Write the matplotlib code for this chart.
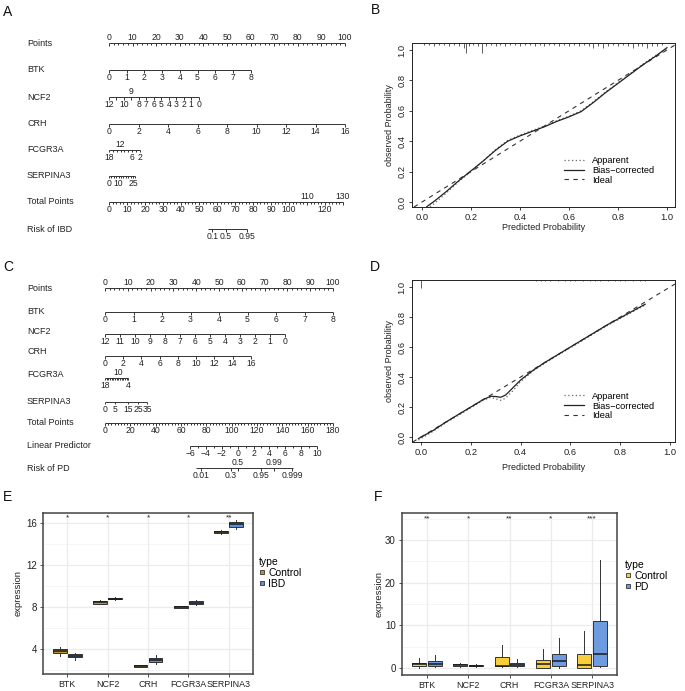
import numpy as np
import matplotlib
matplotlib.use('Agg')
import matplotlib.pyplot as plt
from matplotlib.lines import Line2D
from matplotlib.collections import LineCollection
import matplotlib.transforms as mtransforms

plt.rcParams['font.family'] = ['Liberation Sans', 'DejaVu Sans']

# ---------------- data ----------------
# Panel A nomogram (value -> points)
A_points = list(range(0, 101, 10))
A_btk_vals = list(range(0, 9));            A_btk_pts_range = (0, 60)
A_ncf2_vals = list(range(12, -1, -1));     A_ncf2_pts_range = (0, 38)     # 12 -> 0 pts, 0 -> 38 pts
A_ncf2_labels = [12, 10, 9, 8, 7, 6, 5, 4, 3, 2, 1, 0]
A_crh_vals = list(range(0, 17, 2));        A_crh_pts_range = (0, 100)
A_fcgr3a_labels = [18, 12, 6, 2];          A_fcgr3a_pts_range = (0, 13)   # 18 -> 0, 2 -> 13
A_serpina3_labels = [0, 10, 25];           A_serpina3_pts_range = (0, 10.2)
A_total_vals = list(range(0, 131, 10));    A_total_at_100pts = 131.1
A_risk_vals = [0.1, 0.5, 0.95];            A_risk_tp = [57.3, 65, 76.5]; A_risk_line_tp = (55, 76.5)

# Panel C nomogram
C_points = list(range(0, 101, 10))
C_btk_vals = list(range(0, 9));            C_btk_pts_range = (0, 100)
C_ncf2_vals = list(range(12, -1, -1));     C_ncf2_pts_range = (0, 79)
C_crh_vals = list(range(0, 17, 2));        C_crh_pts_range = (0, 64)
C_fcgr3a_labels = [18, 10, 4];             C_fcgr3a_pts_range = (0, 10.3)
C_serpina3_vals = [0, 5, 15, 25, 35];      C_serpina3_pts = [0, 4.4, 10, 14.5, 18.4]
C_total_vals = list(range(0, 181, 20));    C_total_at_100pts = 180
C_lp_vals = list(range(-6, 11, 2));        C_lp_tp_range = (67.1, 167.4)  # tp at lp=-6 and lp=10
C_risk_vals = [0.01, 0.3, 0.5, 0.95, 0.99, 0.999]

# Panel B calibration
B_pred = [0.02, 0.05, 0.10, 0.15, 0.20, 0.25, 0.30, 0.35, 0.40, 0.45, 0.50, 0.55, 0.60, 0.65, 0.70, 0.75, 0.80, 0.85, 0.90, 0.95, 1.00]
B_bias = [-0.03, 0.005, 0.07, 0.14, 0.205, 0.27, 0.34, 0.40, 0.435, 0.465, 0.495, 0.53, 0.56, 0.595, 0.655, 0.72, 0.78, 0.84, 0.90, 0.955, 1.015]
B_app = [-0.045, -0.01, 0.06, 0.135, 0.20, 0.27, 0.345, 0.405, 0.44, 0.47, 0.50, 0.535, 0.565, 0.60, 0.66, 0.725, 0.785, 0.845, 0.905, 0.96, 1.005]
B_rug_x = [0.01, 0.03, 0.05, 0.07, 0.09, 0.11, 0.13, 0.15, 0.17, 0.18, 0.19, 0.21, 0.23, 0.245, 0.26, 0.28, 0.30,
           0.32, 0.34, 0.36, 0.38, 0.40, 0.42, 0.44, 0.46, 0.48, 0.50, 0.52, 0.54, 0.56, 0.58, 0.60, 0.62, 0.64,
           0.66, 0.68, 0.70, 0.72, 0.74, 0.76, 0.78, 0.80, 0.82, 0.84, 0.86, 0.88, 0.90, 0.92, 0.94, 0.96, 0.98]
B_rug_n = [1, 1, 2, 1, 1, 2, 1, 2, 3, 6, 2, 1, 2, 6, 2, 1, 2,
           1, 2, 1, 1, 2, 1, 1, 2, 1, 2, 1, 1, 2, 1, 2, 1, 2,
           1, 2, 3, 2, 3, 2, 1, 2, 1, 2, 3, 2, 2, 3, 2, 2, 1]

# Panel D calibration
D_pred = [-0.01, 0.05, 0.10, 0.15, 0.20, 0.25, 0.28, 0.30, 0.32, 0.34, 0.37, 0.40, 0.45, 0.50, 0.55, 0.60, 0.65, 0.70, 0.75, 0.80, 0.85, 0.90]
D_bias = [-0.01, 0.045, 0.10, 0.15, 0.20, 0.25, 0.272, 0.27, 0.265, 0.28, 0.33, 0.38, 0.445, 0.50, 0.55, 0.60, 0.65, 0.70, 0.75, 0.795, 0.84, 0.885]
D_app = [-0.02, 0.04, 0.095, 0.145, 0.195, 0.245, 0.265, 0.255, 0.245, 0.26, 0.31, 0.37, 0.44, 0.495, 0.545, 0.595, 0.645, 0.695, 0.745, 0.79, 0.835, 0.88]
D_rug_x = [0.0, 0.46, 0.48, 0.50, 0.52, 0.55, 0.58, 0.60, 0.62, 0.65, 0.68, 0.70, 0.72, 0.75, 0.78, 0.80, 0.82, 0.85, 0.88, 0.90]
D_rug_n = [8, 1, 1, 1, 1, 1, 1, 1, 1, 1, 1, 1, 1, 1, 1, 1, 1, 1, 1, 1]

# Panels E / F boxplots: (whisker low, q1, median, q3, whisker high)
genes = ['BTK', 'NCF2', 'CRH', 'FCGR3A', 'SERPINA3']
E_control = [(3.35, 3.6, 3.8, 4.0, 4.2), (8.25, 8.32, 8.45, 8.57, 8.62), (2.25, 2.31, 2.38, 2.45, 2.5),
             (7.9, 7.94, 8.0, 8.08, 8.12), (14.95, 15.02, 15.15, 15.27, 15.35)]
E_ibd = [(3.0, 3.2, 3.35, 3.5, 3.6), (8.65, 8.72, 8.8, 8.9, 8.95), (2.6, 2.76, 2.93, 3.14, 3.45),
         (8.2, 8.26, 8.4, 8.57, 8.65), (15.43, 15.62, 15.9, 16.12, 16.25)]
E_stars = ['*', '*', '*', '*', '**']
F_control = [(0.08, 0.39, 0.86, 1.25, 2.43), (0.16, 0.39, 0.63, 0.86, 1.17), (0.16, 0.39, 0.47, 2.58, 5.3),
             (0.0, 0.08, 0.86, 1.8, 4.4), (0.0, 0.0, 0.63, 3.37, 8.7)]
F_pd = [(0.23, 0.47, 1.02, 1.64, 2.98), (0.23, 0.39, 0.55, 0.78, 1.0), (0.16, 0.39, 0.7, 1.25, 2.19),
        (0.0, 0.55, 1.57, 3.2, 7.05), (0.23, 0.55, 3.2, 10.96, 25.3)]
F_stars = ['**', '*', '**', '*', '***']

# ---------------- figure ----------------
W, H = 685, 691
fig = plt.figure(figsize=(W / 100, H / 100), dpi=100)
FS = 6.5
FS_NUM = 6.2
LINE_C = '#333333'
TXT_C = '#222222'


def px_axes(x0, y0, x1, y1):
    return fig.add_axes([x0 / W, 1 - y1 / H, (x1 - x0) / W, (y1 - y0) / H])


def fmt(v):
    v = float(v)
    if v.is_integer():
        s = str(int(v))
    else:
        s = ('%g' % v)
    return s.replace('-', '\u2212')


def nomo_axes(x0, x1, y0, y1):
    ax = px_axes(x0, y0, x1, y1)
    ax.set_xlim(0, 100)
    ax.set_ylim(y1, y0)
    ax.axis('off')
    return ax


def scale_row(ax, name, row, vals, pts, above=(), minor=None, line=None, name_dy=0.0,
              labels_shown=None, tick_len=2.6, minor_len=1.6):
    pts = [float(p) for p in pts]
    allp = pts + ([float(m) for m in minor] if minor is not None else [])
    lo, hi = (min(allp), max(allp)) if line is None else line
    segs = [[(lo, row), (hi, row)]]
    segs += [[(p, row), (p, row + tick_len)] for p in pts]
    if minor is not None:
        segs += [[(p, row), (p, row + minor_len)] for p in minor]
    ax.add_collection(LineCollection(segs, colors=LINE_C, linewidths=0.7, clip_on=False))
    for v, p in zip(vals, pts):
        if labels_shown is not None and v not in labels_shown:
            continue
        if v in above:
            ax.text(p, row - 1.3, fmt(v), ha='center', va='bottom', fontsize=FS_NUM, color=TXT_C, clip_on=False)
        else:
            ax.text(p, row + 3.0, fmt(v), ha='center', va='top', fontsize=FS_NUM, color=TXT_C, clip_on=False)
    trans = mtransforms.blended_transform_factory(fig.transFigure, ax.transData)
    ax.text(27 / W, row + name_dy, name, transform=trans, ha='left', va='center', fontsize=FS, color=TXT_C)


# ---- Panel A ----
axA = nomo_axes(109, 345, 25, 250)
scale_row(axA, 'Points', 43, A_points, A_points, above=set(A_points),
          minor=[m for m in range(0, 101, 2) if m % 10])
scale_row(axA, 'BTK', 70, A_btk_vals, np.interp(A_btk_vals, [0, 8], A_btk_pts_range))
scale_row(axA, 'NCF2', 97, A_ncf2_vals, np.interp(A_ncf2_vals, [0, 12], A_ncf2_pts_range[::-1]), above={9},
          labels_shown=set(A_ncf2_labels))
scale_row(axA, 'CRH', 124, A_crh_vals, np.interp(A_crh_vals, [0, 16], A_crh_pts_range))
f_ticks = list(range(18, 1, -2))
f_pts = np.interp(f_ticks, [2, 18], A_fcgr3a_pts_range[::-1])
scale_row(axA, 'FCGR3A', 150, f_ticks, f_pts, above={12}, labels_shown=set(A_fcgr3a_labels), tick_len=1.8)
s_ticks = list(np.arange(0, 30, 2.5))
s_pts = [t * A_serpina3_pts_range[1] / 25 for t in s_ticks]
scale_row(axA, 'SERPINA3', 176, s_ticks, s_pts, labels_shown=set(A_serpina3_labels), tick_len=1.8)
tpA = [v * 100 / A_total_at_100pts for v in A_total_vals]
scale_row(axA, 'Total Points', 202, A_total_vals, tpA, above={110, 130},
          minor=[m * 100 / A_total_at_100pts for m in range(0, 131, 2) if m % 10])
scale_row(axA, 'Risk of IBD', 229, A_risk_vals, [t * 100 / A_total_at_100pts for t in A_risk_tp],
          line=tuple(t * 100 / A_total_at_100pts for t in A_risk_line_tp))

# ---- Panel C ----
axC = nomo_axes(105, 333, 280, 480)
scale_row(axC, 'Points', 288, C_points, C_points, above=set(C_points),
          minor=[m for m in range(0, 101, 2) if m % 10], name_dy=0)
scale_row(axC, 'BTK', 312, C_btk_vals, np.interp(C_btk_vals, [0, 8], C_btk_pts_range), name_dy=-1)
scale_row(axC, 'NCF2', 334, C_ncf2_vals, np.interp(C_ncf2_vals, [0, 12], C_ncf2_pts_range[::-1]), name_dy=-3)
scale_row(axC, 'CRH', 356, C_crh_vals, np.interp(C_crh_vals, [0, 16], C_crh_pts_range), name_dy=-5)
cf_ticks = list(range(18, 3, -1))
scale_row(axC, 'FCGR3A', 378, cf_ticks, np.interp(cf_ticks, [4, 18], C_fcgr3a_pts_range[::-1]),
          above={10}, labels_shown=set(C_fcgr3a_labels), name_dy=-4, tick_len=1.8)
scale_row(axC, 'SERPINA3', 402, C_serpina3_vals, C_serpina3_pts, name_dy=-1, tick_len=1.8)
tpC = [v * 100 / C_total_at_100pts for v in C_total_vals]
scale_row(axC, 'Total Points', 423, C_total_vals, tpC,
          minor=[m * 100 / C_total_at_100pts for m in np.arange(0, 181, 2.5) if m % 20], name_dy=-1)


def lp_to_pts(lp):
    slope = (C_lp_tp_range[1] - C_lp_tp_range[0]) / 16.0
    tp = C_lp_tp_range[0] + (np.asarray(lp, dtype=float) + 6) * slope
    return tp * 100 / C_total_at_100pts


scale_row(axC, 'Linear Predictor', 446, C_lp_vals, lp_to_pts(C_lp_vals),
          minor=lp_to_pts([m for m in range(-6, 11) if m % 2]), name_dy=-1)
risk_lp = [np.log(p / (1 - p)) for p in C_risk_vals]
scale_row(axC, 'Risk of PD', 468, C_risk_vals, lp_to_pts(risk_lp), above={0.5, 0.99},
          line=(float(lp_to_pts(-5.3)), float(lp_to_pts(6.95))))


# ---- Calibration panels ----
def calib(ax, pred, app, bias, rug_x, rug_n, rug_unit, xlim, ylim, leg_anchor, xlab_y):
    ax.set_xlim(xlim)
    ax.set_ylim(ylim)
    ax.axline((0, 0), slope=1, color='#333333', lw=0.8, ls=(0, (4, 4)))
    ax.plot(pred, app, ls=(0, (1, 2)), color='#666666', lw=0.9)
    ax.plot(pred, bias, '-', color='#222222', lw=0.9)
    ax.vlines(rug_x, ylim[1] - np.array(rug_n) * rug_unit, ylim[1], color='#444444', lw=0.6)
    ticks = [0.0, 0.2, 0.4, 0.6, 0.8, 1.0]
    ax.set_xticks(ticks, labels=['%.1f' % t for t in ticks])
    ax.set_yticks(ticks, labels=['%.1f' % t for t in ticks], rotation=90, va='center')
    ax.tick_params(length=2.5, width=0.6, pad=1.5, labelsize=6.7, colors='#222222')
    for s in ax.spines.values():
        s.set_linewidth(0.7)
        s.set_color('#222222')
    handles = [Line2D([], [], ls=(0, (1, 2)), color='#666666', lw=0.9),
               Line2D([], [], ls='-', color='#222222', lw=0.9),
               Line2D([], [], ls=(0, (4, 4)), color='#333333', lw=0.8)]
    ax.legend(handles, ['Apparent', 'Bias\u2212corrected', 'Ideal'], loc='upper left',
              bbox_to_anchor=leg_anchor, frameon=False, fontsize=6.7, handlelength=2.2,
              labelspacing=0.1, borderpad=0, handletextpad=0.8)
    pos = ax.get_position()
    fig.text(390 / W, (pos.y0 + pos.y1) / 2, 'observed Probability', rotation=90, ha='center',
             va='center', fontsize=FS, color='#222222')
    fig.text((pos.x0 + pos.x1) / 2, 1 - xlab_y / H, 'Predicted Probability', ha='center',
             va='center', fontsize=FS, color='#222222')


axB = px_axes(412, 43, 675, 207)
calib(axB, B_pred, B_app, B_bias, B_rug_x, B_rug_n, 0.011, (-0.041, 1.033), (-0.033, 1.046),
      (0.56, 0.34), 227)
axD = px_axes(412, 280, 675, 442)
calib(axD, D_pred, D_app, D_bias, D_rug_x, D_rug_n, 0.0068, (-0.036, 1.02), (-0.033, 1.047),
      (0.56, 0.34), 468)


# ---- Expression panels ----
def to_stats(tuples):
    return [dict(whislo=t[0], q1=t[1], med=t[2], q3=t[3], whishi=t[4], fliers=[]) for t in tuples]


def expr_panel(ax, ctrl, dis, col_c, col_d, ylim, major, minor, stars, star_y, dis_name, leg_xy, ylab_x):
    pos = np.arange(1, len(genes) + 1)
    ax.set_xlim(0.4, 5.6)
    ax.set_ylim(ylim)
    for y in major:
        ax.axhline(y, color='#EBEBEB', lw=0.9, zorder=0)
    for y in minor:
        ax.axhline(y, color='#F2F2F2', lw=0.5, zorder=0)
    for x in pos:
        ax.axvline(x, color='#EBEBEB', lw=0.9, zorder=0)
    common = dict(patch_artist=True, showfliers=False, showcaps=False, widths=0.34, manage_ticks=False)
    ax.bxp(to_stats(ctrl), positions=pos - 0.1875,
           boxprops=dict(facecolor=col_c, edgecolor='#333333', linewidth=0.7),
           medianprops=dict(color='#1A1A1A', linewidth=1.1),
           whiskerprops=dict(color='#333333', linewidth=0.7), **common)
    ax.bxp(to_stats(dis), positions=pos + 0.1875,
           boxprops=dict(facecolor=col_d, edgecolor='#333333', linewidth=0.7),
           medianprops=dict(color='#1A1A1A', linewidth=1.1),
           whiskerprops=dict(color='#333333', linewidth=0.7), **common)
    for x, s in zip(pos, stars):
        ax.text(x, star_y, s, ha='center', va='top', fontsize=6, color='#222222')
    ax.set_xticks(pos, labels=genes)
    ax.set_yticks(major)
    ax.tick_params(axis='y', length=2.5, width=0.6, pad=2, labelsize=7, colors='#333333', labelcolor='#222222')
    ax.tick_params(axis='x', length=2.5, width=0.6, pad=2, labelsize=6.4, colors='#333333', labelcolor='#222222')
    for s in ax.spines.values():
        s.set_linewidth(1.1)
        s.set_color('#444444')
    pos_ax = ax.get_position()
    fig.text(ylab_x / W, (pos_ax.y0 + pos_ax.y1) / 2, 'expression', rotation=90, ha='center',
             va='center', fontsize=6.8, color='#222222')
    handles = [Line2D([], [], marker='s', ls='', markersize=3.5, markerfacecolor=col_c,
                      markeredgecolor='#333333', markeredgewidth=0.6),
               Line2D([], [], marker='s', ls='', markersize=3.5, markerfacecolor=col_d,
                      markeredgecolor='#333333', markeredgewidth=0.6)]
    fig.legend(handles, ['Control', dis_name], title='type', loc='upper left',
               bbox_to_anchor=(leg_xy[0] / W, 1 - leg_xy[1] / H), frameon=False, fontsize=7.5,
               title_fontsize=7.5, handlelength=0.6, handletextpad=0.3, labelspacing=0.1,
               borderpad=0, borderaxespad=0, alignment='left')


axE = px_axes(43, 513, 253, 674)
expr_panel(axE, E_control, E_ibd, '#B8962E', '#5E8FD6', (1.62, 16.95), [4, 8, 12, 16], [2, 6, 10, 14],
           E_stars, 16.8, 'IBD', (259, 557), 18)
axF = px_axes(402, 513, 617, 675)
expr_panel(axF, F_control, F_pd, '#F8CE3C', '#6E9BE0', (-1.64, 36.3), [0, 10, 20, 30], [5, 15, 25, 35],
           F_stars, 35.8, 'PD', (625, 560), 379)

# ---- panel letters ----
for lab, x, y in [('A', 8, 12), ('B', 375, 10), ('C', 8, 267), ('D', 375, 267), ('E', 8, 497), ('F', 378, 497)]:
    fig.text(x / W, 1 - y / H, lab, ha='center', va='center', fontsize=10, color='#111111')

fig.savefig('out.png', dpi=100)
